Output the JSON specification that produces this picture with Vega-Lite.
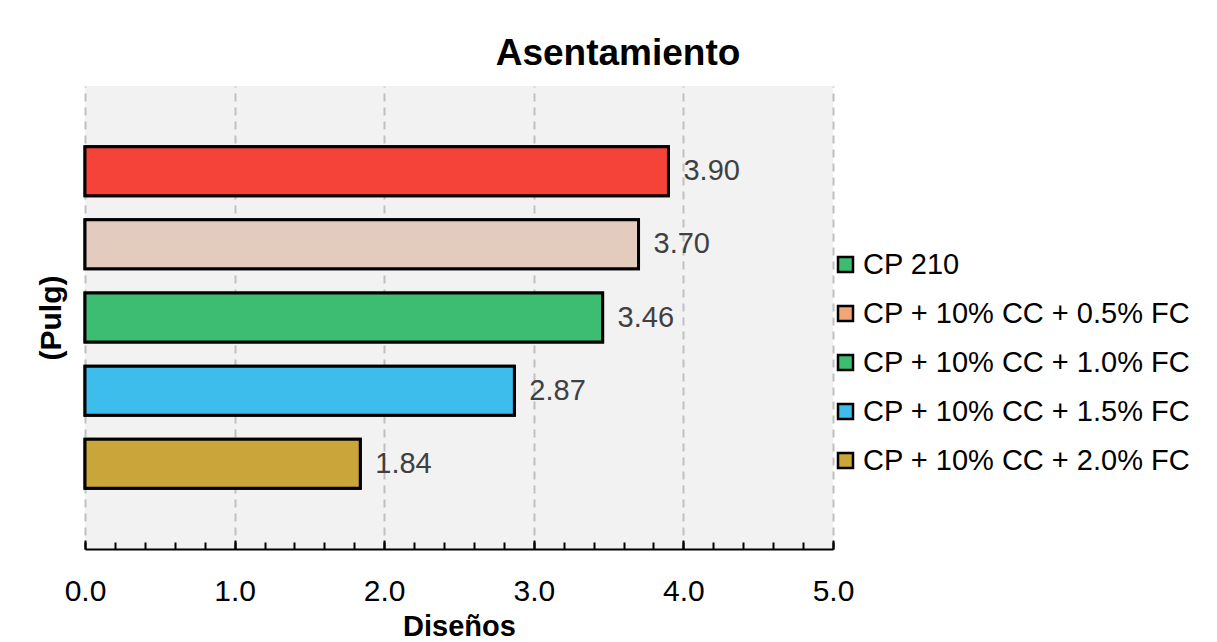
{
  "$schema": "https://vega.github.io/schema/vega-lite/v6.json",
  "width": 748,
  "height": 463,
  "autosize": "none",
  "padding": {"left": 85, "top": 86, "right": 384, "bottom": 93},
  "background": "white",
  "config": {
    "font": "Liberation Sans",
    "view": {"fill": "#f2f2f2", "stroke": null}
  },
  "title": {
    "text": "Asentamiento",
    "fontSize": 37,
    "fontWeight": "bold",
    "font": "Liberation Sans",
    "color": "black",
    "dx": 159,
    "offset": 13
  },
  "data": {
    "values": [
      {"serie": "CP 210", "valor": 3.90},
      {"serie": "CP + 10% CC + 0.5% FC", "valor": 3.70},
      {"serie": "CP + 10% CC + 1.0% FC", "valor": 3.46},
      {"serie": "CP + 10% CC + 1.5% FC", "valor": 2.87},
      {"serie": "CP + 10% CC + 2.0% FC", "valor": 1.84}
    ]
  },
  "encoding": {
    "y": {
      "field": "serie",
      "type": "nominal",
      "sort": null,
      "scale": {"paddingInner": 0.33, "paddingOuter": 0.83},
      "axis": {
        "title": "(Pulg)",
        "labels": false,
        "ticks": false,
        "domain": false,
        "grid": false,
        "titleFontSize": 30,
        "titleFontWeight": "bold",
        "titleColor": "black",
        "titlePadding": 19
      }
    }
  },
  "layer": [
    {
      "mark": {"type": "bar", "stroke": "black", "strokeWidth": 3},
      "encoding": {
        "x": {
          "field": "valor",
          "type": "quantitative",
          "scale": {"domain": [0, 5], "nice": false},
          "axis": {
            "orient": "bottom",
            "values": [0, 1, 2, 3, 4, 5],
            "format": ".1f",
            "labelFlush": false,
            "title": "Diseños",
            "titleFontSize": 29,
            "titleFontWeight": "bold",
            "titleColor": "black",
            "titlePadding": 6,
            "labelFontSize": 30,
            "labelColor": "black",
            "labelPadding": 36,
            "grid": true,
            "gridDash": [8, 6],
            "gridColor": "#c0c0c0",
            "gridWidth": 2,
            "domainColor": "black",
            "domainWidth": 2,
            "tickColor": "black",
            "tickWidth": 2,
            "tickSize": -9
          }
        },
        "color": {
          "field": "serie",
          "type": "nominal",
          "sort": null,
          "scale": {
            "domain": ["CP 210", "CP + 10% CC + 0.5% FC", "CP + 10% CC + 1.0% FC", "CP + 10% CC + 1.5% FC", "CP + 10% CC + 2.0% FC"],
            "range": ["#3cbd72", "#f2a675", "#3cbd72", "#3dbdeb", "#c9a53a"]
          },
          "legend": {
            "orient": "none",
            "legendX": 746,
            "legendY": 164,
            "title": null,
            "symbolType": "square",
            "symbolSize": 225,
            "symbolStrokeColor": "black",
            "symbolStrokeWidth": 2.5,
            "symbolOpacity": 1,
            "labelFontSize": 29,
            "labelColor": "black",
            "labelOffset": 3,
            "rowPadding": 19,
            "labelLimit": 400
          }
        }
      }
    },
    {
      "mark": {"type": "bar", "stroke": "black", "strokeWidth": 3},
      "encoding": {
        "x": {
          "field": "valor",
          "type": "quantitative",
          "axis": {
            "orient": "bottom",
            "values": [0, 0.2, 0.4, 0.6, 0.8, 1, 1.2, 1.4, 1.6, 1.8, 2, 2.2, 2.4, 2.6, 2.8, 3, 3.2, 3.4, 3.6, 3.8, 4, 4.2, 4.4, 4.6, 4.8, 5],
            "labels": false,
            "grid": false,
            "domain": false,
            "title": null,
            "tickColor": "black",
            "tickWidth": 2,
            "tickSize": -7
          }
        },
        "fill": {
          "field": "serie",
          "type": "nominal",
          "sort": null,
          "scale": {
            "domain": ["CP 210", "CP + 10% CC + 0.5% FC", "CP + 10% CC + 1.0% FC", "CP + 10% CC + 1.5% FC", "CP + 10% CC + 2.0% FC"],
            "range": ["#f5433a", "#e3cbbd", "#3cbd72", "#3dbdeb", "#c9a53a"]
          },
          "legend": null
        }
      }
    },
    {
      "mark": {"type": "text", "align": "left", "baseline": "middle", "dx": 15, "fontSize": 29, "color": "#404040"},
      "encoding": {
        "x": {"field": "valor", "type": "quantitative", "axis": null},
        "text": {"field": "valor", "type": "quantitative", "format": ".2f"}
      }
    }
  ],
  "resolve": {"axis": {"x": "independent"}}
}
